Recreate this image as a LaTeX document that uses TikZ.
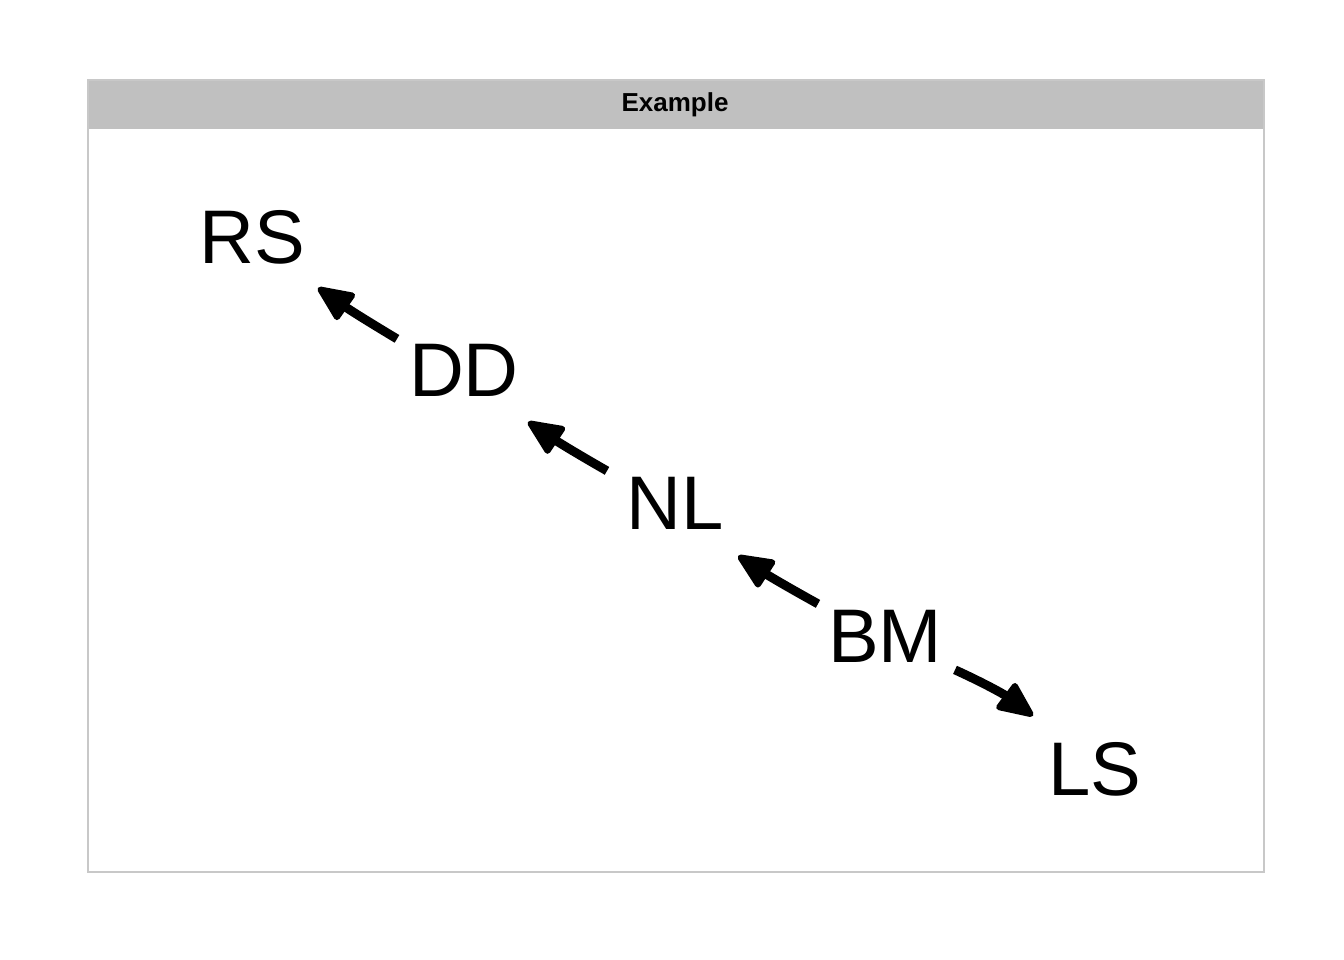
\documentclass[tikz,border=0pt]{standalone}
\usepackage{fontspec}
\setmainfont{Liberation Sans}
\usetikzlibrary{arrows.meta,calc}
\definecolor{hdr}{RGB}{192,192,192}
\definecolor{frm}{RGB}{200,200,200}
\tikzset{
  lbl/.style={anchor=base, inner sep=0pt, font=\fontsize{76}{90}\selectfont},
  arr/.style={line width=9pt, -{Triangle[length=40pt,width=34pt,line width=6pt,round]}},
}
\begin{document}
\begin{tikzpicture}[x=1pt,y=-1pt]
\useasboundingbox (0,0) rectangle (1344,960);
\fill[hdr] (88,80) rectangle (1264,129);
\draw[frm, line width=1.5pt] (88,80) rectangle (1264,872);
\node[inner sep=0pt, anchor=base, font=\fontsize{26}{30}\selectfont\bfseries] (title) at (675,112) {Example};
\node[lbl] (RS) at (252,263) {RS};
\node[lbl] (DD) at (464,396) {DD};
\node[lbl] (NL) at (675,529) {NL};
\node[lbl] (BM) at (885,662) {BM};
\node[lbl] (LS) at (1095,795) {LS};
\draw[arr] ($(DD.center)+(-67,-31)$) to[bend left=2] ($(RS.center)+(66,51)$);
\draw[arr] ($(NL.center)+(-68,-32)$) to[bend left=2] ($(DD.center)+(64,52)$);
\draw[arr] ($(BM.center)+(-67,-32)$) to[bend left=2] ($(NL.center)+(63,53)$);
\draw[arr] ($(BM.center)+(70,34)$) to[bend left=6] ($(LS.center)+(-62,-53)$);
\end{tikzpicture}
\end{document}
